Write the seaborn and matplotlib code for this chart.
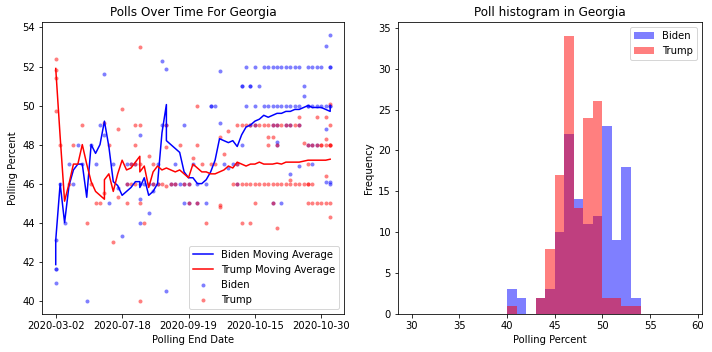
import numpy as np
import pandas as pd
import matplotlib
matplotlib.use("Agg")
import matplotlib.pyplot as plt
import seaborn as sns

# Poll data for Georgia (x = position of the poll end date among the unique dates)
biden_day = [0, 0, 0, 0,
             1, 2, 3, 4, 5, 6, 7, 8, 9, 10,
             11, 11, 12, 13, 14, 15,
             16, 16, 17, 18,
             19, 19, 19, 19,
             20, 21, 21, 22, 22, 23, 23,
             24, 24, 25, 25, 25,
             26, 27, 27, 28, 29, 29, 29,
             30, 30, 31, 32, 32, 34, 34,
             35, 35, 36, 37, 37, 38, 39, 40,
             41, 41, 42, 42, 42, 43, 43,
             44, 44, 44, 45, 45, 45, 46,
             47, 47, 48, 48, 49, 49, 49, 49,
             50, 50, 50, 50, 50, 51, 51, 51,
             52, 52, 52, 53, 53, 53, 53,
             54, 54, 55, 55, 55, 55, 56, 56,
             57, 57, 57, 57, 58, 58, 58, 58,
             59, 59, 59, 60, 60,
             61, 61, 61, 61,
             62, 62, 62, 62, 62, 62, 62]
biden_pct = [43.1, 41.6, 41.6, 40.9,
             46.0, 44.0, 47.0, 46.0, 48.0, 47.0, 40.0, 48.0, 47.0, 49.0,
             51.6, 48.5, 45.0, 47.0, 45.8, 43.3,
             46.0, 47.0, 47.0, 47.0,
             48.5, 45.2, 44.0, 46.0,
             46.0, 44.5, 46.0, 46.0, 45.6, 47.0, 46.0,
             52.3, 49.0, 51.85, 49.0, 40.5,
             46.0, 47.0, 46.0, 46.0, 49.0, 45.0, 46.0,
             45.0, 46.0, 47.0, 46.0, 45.0, 45.0, 46.0,
             50.0, 50.0, 50.0, 51.76, 49.1, 47.0, 46.8, 47.0,
             46.0, 47.0, 51.0, 51.0, 48.0, 52.0, 50.0,
             51.0, 51.0, 49.0, 52.0, 50.0, 49.0, 51.0,
             52.0, 50.0, 52.0, 50.0, 52.0, 50.0, 49.0, 45.0,
             52.0, 50.0, 49.0, 48.15, 48.0, 52.0, 50.0, 45.0,
             52.0, 50.0, 49.0, 52.0, 50.0, 49.0, 46.5,
             52.0, 50.0, 52.0, 50.0, 49.0, 46.9, 51.0, 50.5,
             52.0, 50.0, 50.0, 48.0, 52.0, 50.0, 48.0, 47.0,
             52.0, 50.0, 48.0, 52.0, 50.0,
             53.07, 50.0, 48.8, 46.1,
             53.6, 52.0, 52.0, 50.0, 50.0, 46.1, 46.0]

trump_day = [0, 0, 0, 0,
             1, 3, 4, 6, 7, 8, 9, 10,
             11, 11, 12, 13, 14, 14, 15,
             16, 16, 17, 17, 18, 18, 18, 18,
             19, 19, 19, 19, 19, 20, 21, 22, 22,
             23, 24, 25, 25, 25, 26, 27, 28, 29,
             30, 30, 31, 32, 32, 32, 33, 34,
             35, 36, 37, 37, 37, 38, 39, 40,
             41, 41, 41, 42, 42, 42, 43, 43,
             44, 44, 44, 45, 45, 45, 46, 46,
             47, 47, 48, 48, 48, 48, 49, 49, 49, 49,
             50, 50, 50, 50, 51, 51, 52, 52,
             53, 53, 53, 54, 54, 55, 55, 55,
             56, 56, 57, 57, 57, 57, 57,
             58, 58, 58, 59, 59, 59, 60, 60, 60,
             61, 61, 61, 61, 61,
             62, 62, 62, 62, 62, 62, 62]
trump_pct = [52.4, 51.8, 51.4, 49.7,
             48.0, 46.0, 48.0, 49.0, 44.0, 46.0, 45.0, 45.0,
             49.1, 45.5, 48.0, 43.0, 48.8, 45.3, 49.8,
             45.0, 46.0, 46.0, 47.0, 49.0, 48.0, 47.0, 46.0,
             53.0, 49.0, 47.0, 45.0, 40.0, 44.0, 47.4, 47.0, 46.0,
             46.0, 46.0, 49.0, 47.9, 45.9, 46.0, 46.0, 48.0, 46.0,
             46.0, 45.0, 47.3, 50.0, 48.0, 45.0, 47.0, 44.0,
             47.0, 47.0, 48.4, 44.9, 44.8, 47.5, 48.7, 46.0,
             49.0, 47.0, 46.0, 49.0, 46.0, 44.0, 49.0, 46.0,
             49.0, 46.0, 44.0, 49.0, 46.0, 45.0, 49.0, 46.0,
             49.0, 46.0, 49.0, 48.4, 48.0, 46.0, 49.0, 48.4, 46.0, 45.0,
             49.0, 48.0, 46.0, 43.75, 49.0, 46.0, 49.0, 46.0,
             49.0, 46.2, 46.0, 49.0, 46.0, 49.4, 49.0, 46.0,
             48.1, 46.0, 48.0, 47.0, 46.0, 46.0, 45.0,
             48.0, 46.0, 45.0, 49.4, 48.0, 45.0, 48.0, 48.0, 45.0,
             49.4, 48.3, 48.0, 46.4, 45.0,
             50.1, 49.0, 48.0, 48.0, 48.0, 45.0, 44.3]

# Moving averages
biden_ma_day = [0, 0] + list(range(1, 20)) + [19] + list(range(20, 26)) + [25] + list(range(26, 63)) + [62]
biden_ma = [41.85, 43.1,
            46.0, 44.0, 45.9, 46.7, 47.0, 47.0, 45.3, 48.0, 47.55, 48.0,
            49.2, 47.9, 46.1, 45.9, 45.4, 45.6, 45.8, 46.1, 46.1, 45.8,
            46.3, 45.4, 45.6, 46.0, 48.6, 50.05, 48.2,
            48.0, 47.8, 47.6, 46.6, 46.3, 46.3, 46.0, 46.0, 46.2, 46.6,
            47.2, 48.3, 48.2, 48.1, 48.2, 47.9, 48.5, 48.9, 49.0, 49.2,
            49.3, 49.5, 49.4, 49.5, 49.6, 49.6, 49.7, 49.7, 49.8, 49.8,
            49.9, 50.0, 49.9, 49.9, 49.9, 49.8, 49.7, 50.0]
trump_ma_day = list(range(0, 12)) + [11] + list(range(12, 20)) + [19] + list(range(20, 63))
trump_ma = [51.9, 48.4, 45.1, 46.0, 47.0, 47.0, 48.0, 47.0, 46.1, 45.6, 45.4, 45.2, 46.2,
            46.5, 45.6, 46.5, 47.2, 46.7, 46.8, 47.1, 47.4, 46.6,
            46.9, 45.8, 46.6, 46.9, 46.7, 46.8, 46.7, 46.6, 46.7, 46.5,
            46.3, 47.0, 46.8, 46.6, 46.6, 46.5, 46.5, 46.6, 46.7, 46.9,
            46.8, 47.1, 47.0, 46.9, 47.0, 47.0, 47.1, 47.0, 47.0, 47.0,
            47.05, 47.0, 47.1, 47.1, 47.1, 47.1, 47.15, 47.2, 47.2, 47.2,
            47.2, 47.2, 47.25]

date_ticks = [0, 15, 30, 45, 60]
date_labels = ["2020-03-02", "2020-07-18", "2020-09-19", "2020-10-15", "2020-10-30"]

bins = np.arange(30, 60)

fig = plt.figure(figsize=(712 / 72, 352 / 72), dpi=72)
ax1 = fig.add_axes([0.059, 0.108, 0.424, 0.8295])
ax2 = fig.add_axes([0.559, 0.108, 0.427, 0.8295])

# Left: polls over time
sns.lineplot(x=biden_ma_day, y=biden_ma, color="blue", estimator=None, sort=False,
             label="Biden Moving Average", ax=ax1)
sns.lineplot(x=trump_ma_day, y=trump_ma, color="red", estimator=None, sort=False,
             label="Trump Moving Average", ax=ax1)
sns.scatterplot(x=biden_day, y=biden_pct, color="blue", alpha=0.5, s=16, linewidth=0,
                label="Biden", ax=ax1)
sns.scatterplot(x=trump_day, y=trump_pct, color="red", alpha=0.5, s=16, linewidth=0,
                label="Trump", ax=ax1)
ax1.set_xticks(date_ticks)
ax1.set_xticklabels(date_labels)
ax1.set_title("Polls Over Time For Georgia", fontsize=12)
ax1.set_xlabel("Polling End Date")
ax1.set_ylabel("Polling Percent")
ax1.legend(loc="lower right")

# Right: histogram
sns.histplot(x=biden_pct, bins=bins, color="blue", alpha=0.5, linewidth=0,
             label="Biden", ax=ax2)
sns.histplot(x=trump_pct, bins=bins, color="red", alpha=0.5, linewidth=0,
             label="Trump", ax=ax2)
ax2.set_title("Poll histogram in Georgia", fontsize=12)
ax2.set_xlabel("Polling Percent")
ax2.set_ylabel("Frequency")
ax2.legend(loc="upper right")

fig.savefig("out.png", dpi=72)
